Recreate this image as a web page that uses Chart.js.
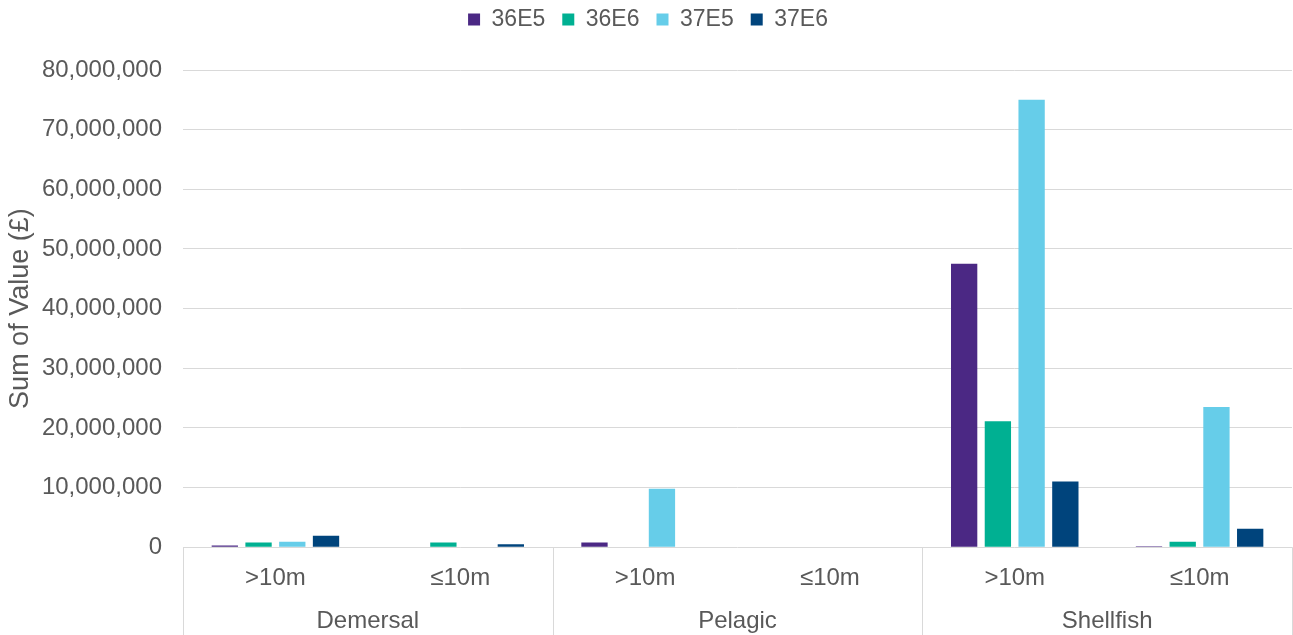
<!DOCTYPE html>
<html>
<head>
<meta charset="utf-8">
<script src="https://cdn.jsdelivr.net/npm/chart.js@4"></script>
<style>
  body { margin: 0; background: #fff; }
  #wrap { width: 1293px; height: 635px; }
</style>
</head>
<body>
<div id="wrap"><canvas id="valueChart"></canvas></div>
<script>
const subLabels = ['>10m', '≤10m', '>10m', '≤10m', '>10m', '≤10m'];
const groups = ['Demersal', 'Pelagic', 'Shellfish'];
const s36E5 = [300000, 0, 800000, 0, 47500000, 150000];
const s36E6 = [800000, 800000, 0, 0, 21100000, 900000];
const s37E5 = [900000, 0, 9800000, 0, 75000000, 23500000];
const s37E6 = [1900000, 500000, 0, 0, 11000000, 3100000];
const yTicks = [0, 10000000, 20000000, 30000000, 40000000, 50000000, 60000000, 70000000, 80000000];

const FONT = '"Liberation Sans", Arial, sans-serif';
const TEXT = '#595959';
const GRID = '#d9d9d9';

// push plot down below the legend
const legendGap = {
  id: 'legendGap',
  beforeInit(chart) {
    const fit = chart.legend.fit;
    chart.legend.fit = function () {
      fit.call(this);
      this.height += 29;
    };
  },
};

// vertical separators between the category groups under the axis
const groupLines = {
  id: 'groupLines',
  afterDraw(chart) {
    const x = chart.scales.x;
    const ctx = chart.ctx;
    ctx.save();
    ctx.strokeStyle = GRID;
    ctx.lineWidth = 1;
    for (let i = 0; i <= groups.length; i++) {
      const px = Math.round(x.left + (i * x.width) / groups.length) + 0.5;
      ctx.beginPath();
      ctx.moveTo(px, chart.chartArea.bottom);
      ctx.lineTo(px, chart.height);
      ctx.stroke();
    }
    ctx.restore();
  },
};

const ds = (label, data, color) => ({
  label,
  data,
  backgroundColor: color,
  borderWidth: 0,
  categoryPercentage: 0.73,
  barPercentage: 0.78,
  xAxisID: 'x',
});

new Chart(document.getElementById('valueChart'), {
  type: 'bar',
  data: {
    labels: subLabels,
    datasets: [
      ds('36E5', s36E5, '#4b2884'),
      ds('36E6', s36E6, '#00b092'),
      ds('37E5', s37E5, '#66cde9'),
      ds('37E6', s37E6, '#00447c'),
    ],
  },
  options: {
    responsive: true,
    maintainAspectRatio: false,
    animation: false,
    layout: { padding: { left: 4, right: 1, top: -9, bottom: -1 } },
    plugins: {
      legend: {
        position: 'top',
        labels: {
          font: { family: FONT, size: 23 },
          color: TEXT,
          boxWidth: 12,
          boxHeight: 12,
          padding: 17,
        },
      },
      tooltip: { enabled: false },
    },
    scales: {
      y: {
        min: 0,
        max: 80000000,
        afterBuildTicks: (axis) => {
          axis.ticks = yTicks.map((v) => ({ value: v }));
        },
        afterFit: (axis) => {
          axis.width = 179;
        },
        ticks: {
          font: { family: FONT, size: 24 },
          color: TEXT,
          padding: 21,
          callback: (v) => Number(v).toLocaleString('en-GB'),
        },
        grid: { color: GRID, drawTicks: false },
        border: { display: false },
        title: {
          display: true,
          text: 'Sum of Value (£)',
          font: { family: FONT, size: 27 },
          color: TEXT,
          padding: { top: 0, bottom: 0 },
        },
      },
      x: {
        afterFit: (axis) => {
          axis.height = 60;
        },
        ticks: {
          font: { family: FONT, size: 24 },
          color: TEXT,
          padding: 17,
          maxRotation: 0,
          autoSkip: false,
        },
        grid: { display: false, drawTicks: false },
        border: { display: false },
      },
      x2: {
        type: 'category',
        labels: groups,
        position: 'bottom',
        offset: true,
        ticks: {
          font: { family: FONT, size: 24 },
          color: TEXT,
          padding: 0,
          maxRotation: 0,
        },
        grid: { display: false, drawTicks: false },
        border: { display: false },
      },
    },
  },
  plugins: [legendGap, groupLines],
});
</script>
</body>
</html>
